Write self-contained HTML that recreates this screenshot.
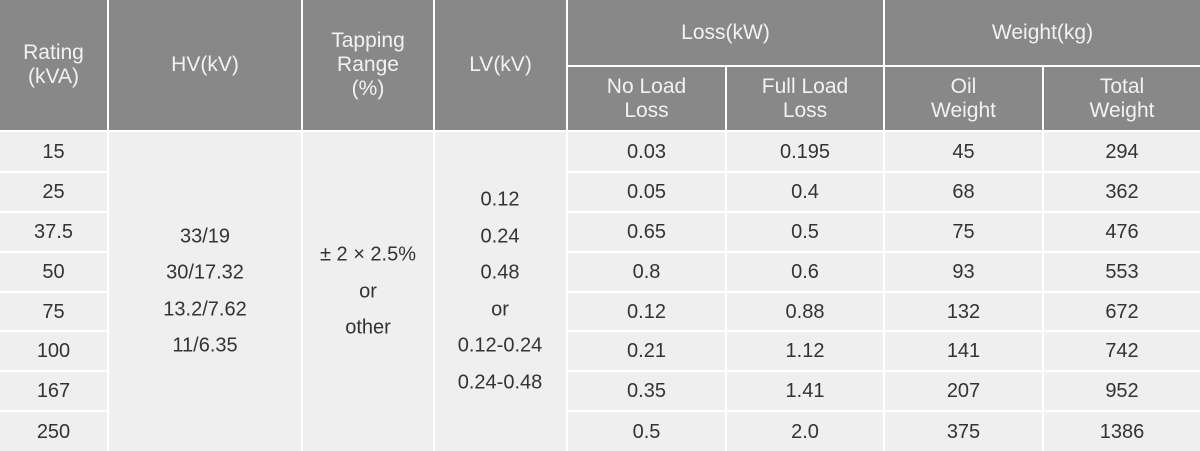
<!DOCTYPE html>
<html><head><meta charset="utf-8"><style>
body{margin:0;width:1200px;height:451px;background:#fff;overflow:hidden;font-family:"Liberation Sans",sans-serif}
.c{position:absolute;box-sizing:border-box;display:flex;align-items:center;justify-content:center;text-align:center;font-size:21px;line-height:24px}
.h{background:#888;color:#f2f2f2}
.b{background:#efefef;color:#333;font-size:20px}
.t{position:absolute;color:#333;font-size:20px;text-align:center;transform:translate(-50%,-50%);white-space:nowrap}
</style></head><body>
<div class="c h" style="left:0;top:0;width:107px;height:130px">Rating<br>(kVA)</div>
<div class="c h" style="left:109px;top:0;width:192px;height:130px">HV(kV)</div>
<div class="c h" style="left:303px;top:0;width:130px;height:130px">Tapping<br>Range<br>(%)</div>
<div class="c h" style="left:435px;top:0;width:131px;height:130px">LV(kV)</div>
<div class="c h" style="left:568px;top:0;width:315px;height:65px">Loss(kW)</div>
<div class="c h" style="left:885px;top:0;width:315px;height:65px">Weight(kg)</div>
<div class="c h" style="left:568px;top:67px;width:157px;height:63px">No Load<br>Loss</div>
<div class="c h" style="left:727px;top:67px;width:156px;height:63px">Full Load<br>Loss</div>
<div class="c h" style="left:885px;top:67px;width:157px;height:63px">Oil<br>Weight</div>
<div class="c h" style="left:1044px;top:67px;width:156px;height:63px">Total<br>Weight</div>
<div class="c b" style="left:109px;top:132px;width:192px;height:319px"></div>
<div class="c b" style="left:303px;top:132px;width:130px;height:319px"></div>
<div class="c b" style="left:435px;top:132px;width:131px;height:319px"></div>
<div id="rows"></div>
<div class="t" style="left:205px;top:237px">33/19</div>
<div class="t" style="left:205px;top:273px">30/17.32</div>
<div class="t" style="left:205px;top:310px">13.2/7.62</div>
<div class="t" style="left:205px;top:346px">11/6.35</div>
<div class="t" style="left:368px;top:255px">± 2 × 2.5%</div>
<div class="t" style="left:368px;top:292px">or</div>
<div class="t" style="left:368px;top:328px">other</div>
<div class="t" style="left:500px;top:200px">0.12</div>
<div class="t" style="left:500px;top:237px">0.24</div>
<div class="t" style="left:500px;top:273px">0.48</div>
<div class="t" style="left:500px;top:310px">or</div>
<div class="t" style="left:500px;top:346px">0.12-0.24</div>
<div class="t" style="left:500px;top:383px">0.24-0.48</div>
<script>
var d=[["15","0.03","0.195","45","294"],["25","0.05","0.4","68","362"],["37.5","0.65","0.5","75","476"],["50","0.8","0.6","93","553"],["75","0.12","0.88","132","672"],["100","0.21","1.12","141","742"],["167","0.35","1.41","207","952"],["250","0.5","2.0","375","1386"]];
var cols=[[0,107],[568,157],[727,156],[885,157],[1044,156]];
var tops=[132,173,213,253,293,332,372,412,451];
var h="";
d.forEach(function(r,i){r.forEach(function(v,j){h+='<div class="c b" style="left:'+cols[j][0]+'px;top:'+tops[i]+'px;width:'+cols[j][1]+'px;height:'+(tops[i+1]-tops[i]-2+(i==7?2:0))+'px">'+v+'</div>';});});
document.getElementById("rows").innerHTML=h;
</script>
</body></html>
